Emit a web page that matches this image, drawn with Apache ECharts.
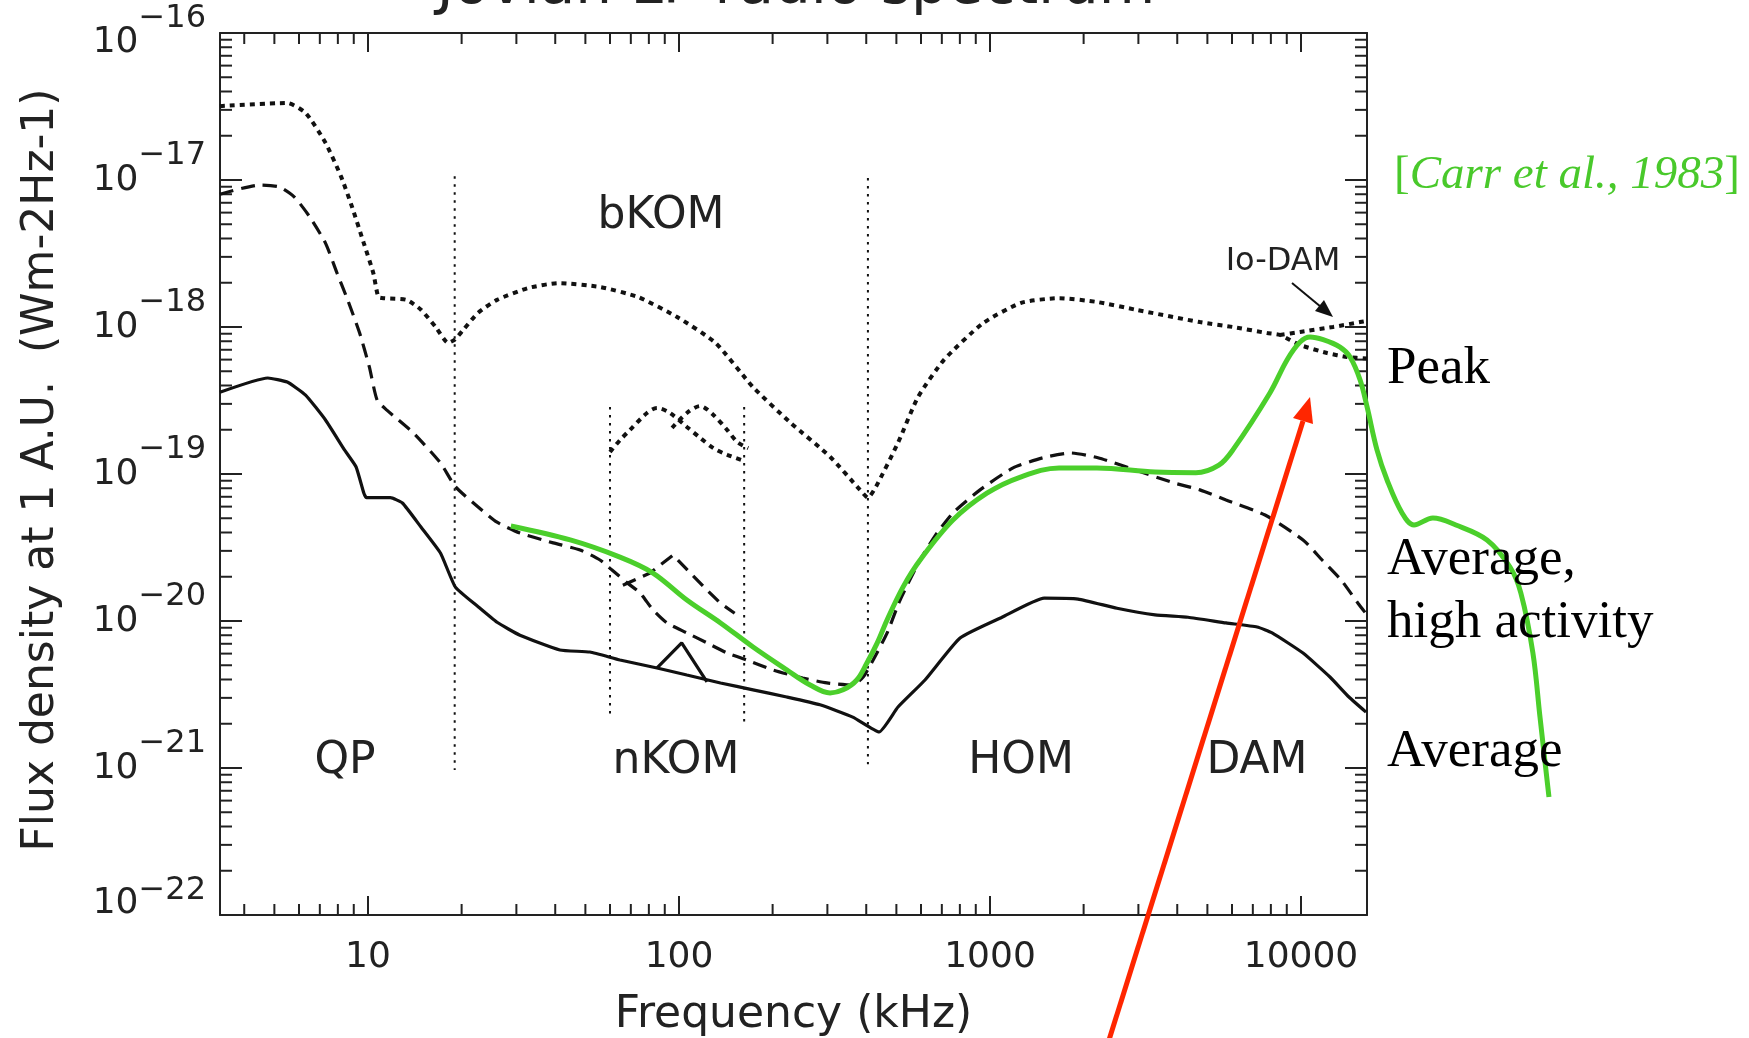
<!DOCTYPE html>
<html>
<head>
<meta charset="utf-8">
<title>Jovian LF radio spectrum</title>
<script src="https://cdn.jsdelivr.net/npm/echarts@6/dist/echarts.min.js"></script>
<style>
  html, body { margin: 0; padding: 0; background: #fff; }
  #chart { width: 1749px; height: 1038px; }
</style>
</head>
<body>
<div id="chart"></div>
<script>
// frequency (kHz) , flux density (W m-2 Hz-1)
const peak = [
  [3.34, 3.18e-17], [5.5, 3.34e-17], [6.3, 2.86e-17], [7.3, 1.79e-17], [8.2, 1.05e-17],
  [8.9, 6.5e-18], [9.7, 3.7e-18], [10.4, 2.33e-18], [10.8, 1.6e-18], [11.3, 1.57e-18],
  [13.3, 1.53e-18], [14.8, 1.31e-18], [16.5, 1.0e-18], [18.1, 7.8e-19], [19.0, 8.2e-19],
  [20.2, 9.5e-19], [22.6, 1.25e-18], [26, 1.53e-18], [32.7, 1.84e-18], [41, 1.99e-18],
  [55.7, 1.87e-18], [73.8, 1.6e-18], [98.6, 1.17e-18], [131, 7.8e-19], [173, 3.9e-19],
  [229, 2.22e-19], [306, 1.31e-19], [382, 7.8e-20], [405, 6.9e-20], [430, 8.2e-20],
  [506, 1.63e-19], [587, 3.34e-19], [711, 5.97e-19], [949, 1.06e-18], [1259, 1.46e-18],
  [1667, 1.57e-18], [2208, 1.48e-18], [2946, 1.31e-18], [4731, 1.08e-18], [6040, 1.0e-18],
  [7780, 9.1e-19], [8551, 8.83e-19], [9930, 7.55e-19], [12130, 6.65e-19], [14060, 6.25e-19],
  [16300, 6.1e-19]
];
const peakIoDam = [[8551, 8.83e-19], [9930, 9.25e-19], [12670, 1.0e-18], [15490, 1.08e-18], [16300, 1.1e-18]];
const peakNkomA = [
  [60, 1.41e-19], [64.6, 1.7e-19], [69.5, 1.99e-19], [78.9, 2.6e-19], [85, 2.81e-19],
  [93.5, 2.6e-19], [106, 2.09e-19], [117, 1.76e-19], [129, 1.5e-19], [143, 1.35e-19], [160, 1.24e-19]
];
const peakNkomB = [[95, 2.06e-19], [106, 2.6e-19], [117, 2.9e-19], [129, 2.52e-19], [143, 1.99e-19], [154, 1.65e-19], [167, 1.5e-19]];

const highActivity = [
  [3.34, 8.0e-18], [4.5, 9.25e-18], [5.2, 8.96e-18], [5.8, 7.66e-18], [6.5, 5.6e-18],
  [7.3, 3.72e-18], [7.95, 2.33e-18], [8.6, 1.53e-18], [9.4, 9.1e-19], [10.1, 5.35e-19],
  [10.7, 3.18e-19], [11.5, 2.72e-19], [14.0, 1.9e-19], [17.1, 1.19e-19], [19.1, 8.2e-20],
  [22.6, 5.97e-20], [26, 4.7e-20], [30.8, 3.97e-20], [39.4, 3.4e-20], [48.1, 3.04e-20],
  [55.7, 2.6e-20], [60.9, 2.22e-20], [68.1, 1.82e-20], [75, 1.55e-20], [82.5, 1.19e-20],
  [91.5, 9.7e-21], [106, 8.3e-21], [123, 7.1e-21], [143, 6.05e-21], [165, 5.43e-21],
  [200, 4.65e-21], [250, 4.09e-21], [299, 3.79e-21], [362, 3.67e-21], [391, 4.16e-21],
  [421, 5.43e-21], [467, 8.3e-21], [514, 1.39e-20], [596, 2.6e-20], [676, 3.97e-20],
  [760, 5.43e-20], [929, 7.8e-20], [1186, 1.1e-19], [1479, 1.29e-19], [1821, 1.39e-19],
  [2223, 1.29e-19], [2946, 1.06e-19], [3904, 8.7e-20], [4731, 7.8e-20], [5741, 6.65e-20],
  [7663, 5.26e-20], [10150, 3.56e-20], [11690, 2.6e-20], [13460, 1.9e-20], [15250, 1.32e-20],
  [16300, 1.1e-20]
];
const highActivityNkom = [[66, 1.75e-20], [80.7, 2.12e-20], [95.7, 2.81e-20], [108, 2.15e-20], [121, 1.68e-20], [136, 1.32e-20], [151, 1.13e-20]];

const average = [
  [3.34, 3.6e-19], [4.76, 4.5e-19], [5.5, 4.22e-19], [6.3, 3.44e-19], [7.3, 2.33e-19],
  [8.4, 1.46e-19], [9.15, 1.12e-19], [9.7, 7.4e-20], [9.9, 6.9e-20], [11.8, 6.9e-20],
  [12.9, 6.35e-20], [14.8, 4.36e-20], [17.1, 2.9e-20], [19.1, 1.7e-20], [22.6, 1.25e-20],
  [26, 9.8e-21], [30.8, 8.0e-21], [41.4, 6.35e-21], [51.7, 6.15e-21], [64.6, 5.43e-21],
  [85, 4.79e-21], [106, 4.29e-21], [136, 3.79e-21], [173, 3.4e-21], [222, 3.04e-21],
  [284, 2.69e-21], [362, 2.22e-21], [440, 1.76e-21], [506, 2.6e-21], [618, 3.97e-21],
  [801, 7.66e-21], [1093, 1.06e-20], [1493, 1.43e-20], [1919, 1.41e-20], [2560, 1.22e-20],
  [3394, 1.1e-20], [4333, 1.06e-20], [5741, 9.7e-21], [7228, 9.1e-21], [8075, 8.3e-21],
  [10150, 6.05e-21], [12390, 4.16e-21], [14260, 3.04e-21], [16180, 2.4e-21]
];
const averageNkom = [[85, 4.79e-21], [102, 7.1e-21], [123, 3.85e-21]];

// hand-drawn overlay (Carr et al., 1983), runs past the frame on the right
const carr = [
  [28.8, 4.43e-20], [44.7, 3.56e-20], [64.6, 2.72e-20], [82.5, 2.12e-20], [106, 1.39e-20],
  [136, 9.7e-21], [173, 6.65e-21], [222, 4.65e-21], [264, 3.67e-21], [306, 3.24e-21],
  [337, 3.4e-21], [373, 3.97e-21], [402, 5.18e-21], [434, 7.1e-21], [467, 1.02e-20],
  [525, 1.7e-20], [596, 2.6e-20], [760, 4.86e-20], [977, 7.4e-20], [1247, 9.5e-20],
  [1667, 1.1e-19], [2208, 1.1e-19], [3394, 1.03e-19], [4592, 1.02e-19], [5445, 1.15e-19],
  [6040, 1.46e-19], [7943, 3.56e-19], [9016, 5.97e-19], [9930, 7.9e-19], [10690, 8.55e-19],
  [11780, 8.2e-19], [13350, 7.3e-19], [14380, 6.25e-19], [15490, 4.36e-19], [16310, 2.86e-19],
  [17550, 1.46e-19], [18910, 9.1e-20], [21130, 5.43e-20], [23080, 4.5e-20], [26550, 5.02e-20],
  [31480, 4.5e-20], [39630, 3.56e-20], [46980, 2.33e-20], [50930, 1.55e-20], [55680, 6.05e-21],
  [58670, 2.22e-21], [62700, 6.35e-22]
];

// dotted region boundaries
const sepFreq = [19, 60, 162, 405];
const sepTop = [1.06e-17, 2.86e-19, 2.86e-19, 1.03e-17];
const sepBottom = [9.7e-22, 2.33e-21, 2.02e-21, 1.06e-21];

const xMin = 3.343, xMax = 16300, xMaxWide = 100000;
const yMin = 1e-22, yMax = 1e-16;
const xTickValues = [10, 100, 1000, 10000];
const xTickLabels = ['10', '100', '1000', '10000'];
const yTickExps = [-22, -21, -20, -19, -18, -17, -16];
const yTickValues = yTickExps.map(e => Math.pow(10, e));
const minorMult = [2, 3, 4, 5, 6, 7, 8, 9];

const FONT = 'DejaVu Sans';
const INK = '#111';
const G = { left: 220, top: 33, bottom: 123, width: 1147 };

let xMinor = [];
[1, 10, 100, 1000, 10000].forEach(d => minorMult.forEach(m => {
  const v = d * m;
  if (v > xMin && v < xMax) xMinor.push(v);
}));
let yMinor = [];
yTickExps.slice(0, -1).forEach(e => minorMult.forEach(m => yMinor.push(m * Math.pow(10, e))));

function isDecade(v) {
  const l = Math.log10(v);
  return Math.abs(l - Math.round(l)) < 1e-6;
}

function curve(data, lineStyle, extra) {
  return Object.assign({
    type: 'line', data: data, symbol: 'none', silent: true, clip: false,
    lineStyle: Object.assign({ color: INK, cap: 'butt' }, lineStyle)
  }, extra || {});
}

const dotted = { width: 4, type: [5, 5] };
const dashed = { width: 3.2, type: [14, 8] };
const solid = { width: 3.2 };

let series = [
  curve(peak, dotted, { smooth: 0.2 }),
  curve(peakIoDam, dotted, { smooth: 0.2 }),
  curve(peakNkomA, dotted, { smooth: 0.3 }),
  curve(peakNkomB, dotted, { smooth: 0.3 }),
  curve(highActivity, dashed, { smooth: 0.2 }),
  curve(highActivityNkom, dashed),
  curve(average, solid, { smooth: 0.15 }),
  curve(averageNkom, solid),
  // wider hidden axes share the same scale, so the green line can leave the frame
  curve(carr, { width: 5, color: '#4bcf2b' }, { smooth: 0.35, z: 5, xAxisIndex: 2, yAxisIndex: 2 })
];
sepFreq.forEach((f, i) => {
  series.push(curve([[f, sepTop[i]], [f, sepBottom[i]]], { width: 2, type: [2.5, 5.5] }));
});

// log minor ticks on all four sides
const MINOR = 11;
series.push({
  type: 'custom', silent: true, data: xMinor.map(v => [v, yMin]),
  renderItem: function (params, api) {
    const b = api.coord([api.value(0), yMin]);
    const t = api.coord([api.value(0), yMax]);
    const st = { stroke: '#222', lineWidth: 2 };
    return { type: 'group', children: [
      { type: 'line', shape: { x1: b[0], y1: b[1], x2: b[0], y2: b[1] - MINOR }, style: st },
      { type: 'line', shape: { x1: t[0], y1: t[1], x2: t[0], y2: t[1] + MINOR }, style: st }
    ] };
  }
});
series.push({
  type: 'custom', silent: true, data: yMinor.map(v => [xMin, v]),
  renderItem: function (params, api) {
    const l = api.coord([xMin, api.value(1)]);
    const r = api.coord([xMax, api.value(1)]);
    const st = { stroke: '#222', lineWidth: 2 };
    return { type: 'group', children: [
      { type: 'line', shape: { x1: l[0], y1: l[1], x2: l[0] + MINOR + 1, y2: l[1] }, style: st },
      { type: 'line', shape: { x1: r[0], y1: r[1], x2: r[0] - MINOR - 1, y2: r[1] }, style: st }
    ] };
  }
});

const axisLine = { show: true, onZero: false, lineStyle: { color: '#222', width: 2 } };

function xAxis(pos, show) {
  return {
    type: 'log', position: pos, min: xMin, max: xMax, logBase: 10, gridIndex: 0,
    axisLine: axisLine, splitLine: { show: false },
    axisTick: { show: true, inside: true, length: 19, customValues: xTickValues, lineStyle: { color: '#222', width: 2 } },
    axisLabel: {
      show: show, margin: 25, color: '#222', fontFamily: FONT, fontSize: 36, customValues: xTickValues,
      formatter: v => {
        const i = xTickValues.findIndex(t => Math.abs(t - v) / t < 1e-6);
        return i < 0 ? '' : xTickLabels[i];
      }
    },
    name: show ? 'Frequency (kHz)' : '', nameLocation: 'middle', nameGap: 79, nameMoveOverlap: false,
    nameTextStyle: { fontFamily: FONT, fontSize: 44, color: '#222' }
  };
}

const baseTxt = { fontFamily: FONT, fontSize: 36, color: '#222', verticalAlign: 'bottom', lineHeight: 81 };
const expTxt = { fontFamily: FONT, fontSize: 32, color: '#222', verticalAlign: 'top', lineHeight: 81 };
function yAxis(pos, show) {
  return {
    type: 'log', position: pos, min: yMin, max: yMax, logBase: 10, gridIndex: 0,
    axisLine: axisLine, splitLine: { show: false },
    axisTick: { show: true, inside: true, length: 22, customValues: yTickValues, lineStyle: { color: '#222', width: 2 } },
    axisLabel: {
      show: show, margin: 14, customValues: yTickValues,
      formatter: v => {
        if (!isDecade(v)) return '';
        const e = Math.round(Math.log10(v));
        // end labels are nudged inwards, as in the source figure
        let s = '';
        if (e === yTickExps[yTickExps.length - 1]) s = 't';
        if (e === yTickExps[0]) s = 'u';
        return '{b' + s + '|10}{e' + s + '|\u2212' + (-e) + '}';
      },
      rich: {
        b: Object.assign({ padding: [0, 0, 22, 0] }, baseTxt),
        e: Object.assign({ padding: [0, 0, 0, 0] }, expTxt),
        bt: Object.assign({ padding: [0, 0, 13, 0] }, baseTxt),
        et: Object.assign({ padding: [10, 0, 0, 0] }, expTxt),
        bu: Object.assign({ padding: [0, 0, 34, 0] }, baseTxt),
        eu: Object.assign({ padding: [0, 0, 12, 0] }, expTxt, { verticalAlign: 'top', lineHeight: 81 })
      }
    }
  };
}

function label(text, x, y, size, extra) {
  return {
    type: 'text', x: x, y: y, z: 50, silent: true,
    style: Object.assign({ text: text, fontFamily: FONT, fontSize: size, fill: '#222', align: 'center', verticalAlign: 'middle' }, extra || {})
  };
}
const serif = { fontFamily: 'Liberation Serif', fill: '#000', align: 'left' };

const graphic = [
  label('Jovian LF radio spectrum', 796, -12, 58),
  Object.assign(label('Flux density at 1 A.U.  (Wm-2Hz-1)', 42, 470, 44), { rotation: Math.PI / 2 }),
  label('bKOM', 661, 217, 44),
  label('QP', 345, 762, 44),
  label('nKOM', 676, 762, 44),
  label('HOM', 1021, 762, 44),
  label('DAM', 1257, 762, 44),
  label('Io-DAM', 1283, 262, 32),
  { type: 'line', z: 50, shape: { x1: 1292, y1: 283, x2: 1321, y2: 307 }, style: { stroke: '#111', lineWidth: 2 } },
  { type: 'polygon', z: 50, shape: { points: [[1333, 317], [1315, 311], [1324, 300]] }, style: { fill: '#111' } },
  label('Peak', 1387, 369, 53, serif),
  label('Average,', 1387, 560, 53, serif),
  label('high activity', 1387, 623, 53, serif),
  label('Average', 1387, 752, 53, serif),
  {
    type: 'text', x: 1394, y: 176, z: 50, silent: true,
    style: {
      text: '{n|[}{i|Carr et al., 1983}{n|]}', align: 'left', verticalAlign: 'middle',
      rich: {
        n: { fontFamily: 'Liberation Serif', fontSize: 47, fill: '#49c92b', color: '#49c92b' },
        i: { fontFamily: 'Liberation Serif', fontSize: 47, fontStyle: 'italic', fill: '#49c92b', color: '#49c92b' }
      }
    }
  },
  // red pointer
  { type: 'line', z: 60, shape: { x1: 1109, y1: 1040, x2: 1303, y2: 421 }, style: { stroke: '#ff2600', lineWidth: 5 } },
  { type: 'polygon', z: 60, shape: { points: [[1310, 397], [1313, 424], [1293, 418]] }, style: { fill: '#ff2600' } }
];

const wideWidth = G.width * (Math.log10(xMaxWide) - Math.log10(xMin)) / (Math.log10(xMax) - Math.log10(xMin));
const hidden = { show: false, splitLine: { show: false } };

const chart = echarts.init(document.getElementById('chart'));
chart.setOption({
  animation: false,
  backgroundColor: '#fff',
  grid: [
    { left: G.left, top: G.top, bottom: G.bottom, width: G.width, outerBoundsMode: 'none', containLabel: false },
    { left: G.left, top: G.top, bottom: G.bottom, width: wideWidth, outerBoundsMode: 'none', containLabel: false }
  ],
  xAxis: [xAxis('bottom', true), xAxis('top', false),
    Object.assign({ type: 'log', gridIndex: 1, min: xMin, max: xMaxWide }, hidden)],
  yAxis: [yAxis('left', true), yAxis('right', false),
    Object.assign({ type: 'log', gridIndex: 1, min: yMin, max: yMax }, hidden)],
  series: series,
  graphic: graphic
});
</script>
</body>
</html>
